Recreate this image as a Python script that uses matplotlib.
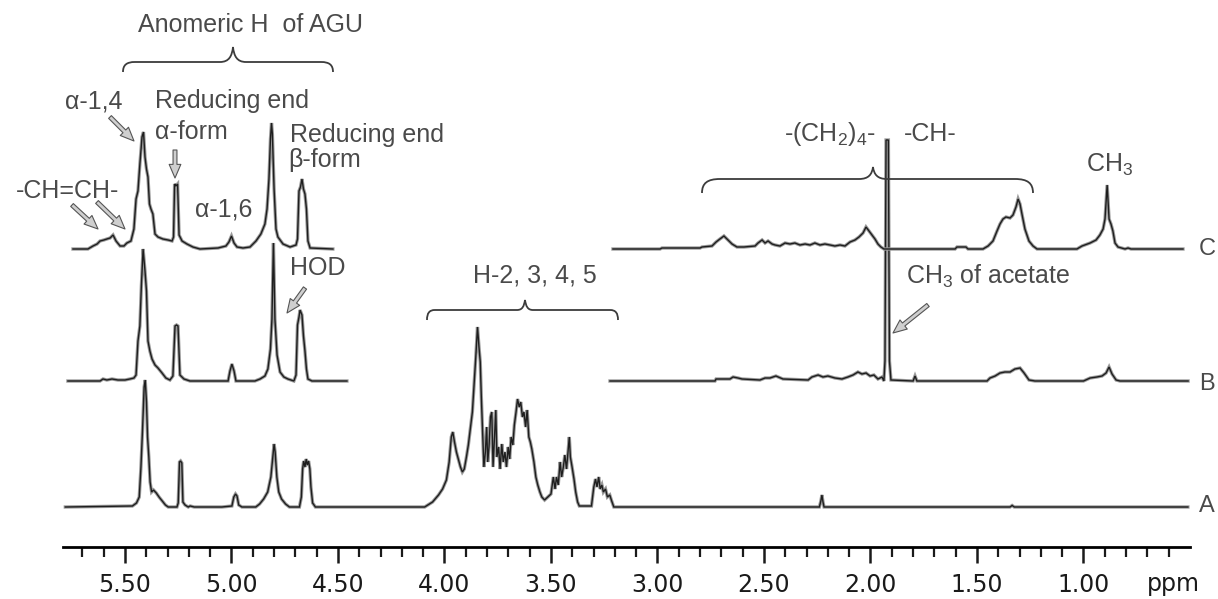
import numpy as np
import matplotlib
matplotlib.use('Agg')
import matplotlib.pyplot as plt
from matplotlib.path import Path
from matplotlib.patches import PathPatch
from matplotlib.ticker import FixedLocator, FormatStrFormatter

plt.rcParams['font.family'] = ['Liberation Sans', 'DejaVu Sans']
plt.rcParams['mathtext.default'] = 'regular'

# --- spectrum A (starch, full range) : ppm / intensity ---
a_ppm = [5.78, 5.465, 5.446, 5.433, 5.425, 5.418, 5.410, 5.405, 5.399, 5.394, 5.388, 5.382,
         5.375, 5.366, 5.353, 5.340, 5.325, 5.310, 5.297, 5.256, 5.250, 5.244, 5.239, 5.233,
         5.228, 5.218, 5.203, 5.194, 5.175, 5.045, 4.998, 4.989, 4.981, 4.974, 4.966, 4.951,
         4.886, 4.868, 4.849, 4.830, 4.815, 4.806, 4.800, 4.795, 4.787, 4.778, 4.765, 4.746,
         4.728, 4.681, 4.672, 4.666, 4.661, 4.655, 4.649, 4.644, 4.638, 4.632, 4.627, 4.619,
         4.606, 4.093, 4.056, 4.028, 4.009, 3.991, 3.978, 3.968, 3.961, 3.953, 3.944, 3.935,
         3.925, 3.916, 3.907, 3.897, 3.888, 3.879, 3.869, 3.860, 3.853, 3.845, 3.838, 3.832,
         3.827, 3.821, 3.815, 3.808, 3.802, 3.797, 3.791, 3.784, 3.778, 3.772, 3.765, 3.759,
         3.754, 3.746, 3.739, 3.731, 3.724, 3.716, 3.709, 3.701, 3.694, 3.687, 3.679, 3.672,
         3.664, 3.657, 3.649, 3.642, 3.634, 3.627, 3.619, 3.612, 3.604, 3.597, 3.590, 3.580,
         3.571, 3.562, 3.552, 3.543, 3.530, 3.515, 3.500, 3.489, 3.481, 3.474, 3.466, 3.457,
         3.450, 3.442, 3.435, 3.427, 3.420, 3.414, 3.409, 3.401, 3.392, 3.384, 3.375, 3.367,
         3.310, 3.299, 3.291, 3.284, 3.276, 3.269, 3.261, 3.254, 3.244, 3.235, 3.224, 3.215,
         3.205, 2.240, 2.233, 2.228, 2.223, 2.218, 1.345, 1.335, 1.325, 0.51]
a_int = [0, 1, 4, 10, 40, 75, 120, 127, 105, 70, 50, 25,
         15, 17, 14, 10, 6, 2, 0, 0, 4, 45, 46, 44,
         5, 2, 0, 1, 0, 0, 1, 10, 13, 11, 2, 0,
         0, 3, 8, 15, 30, 50, 63, 55, 30, 15, 8, 3,
         0, 0, 10, 38, 46, 40, 48, 42, 46, 38, 20, 4,
         0, 0, 5, 12, 18, 27, 45, 70, 75, 65, 55, 48,
         40, 35, 38, 50, 62, 78, 95, 125, 150, 180, 160, 145,
         110, 75, 40, 55, 80, 45, 60, 90, 95, 40, 70, 97,
         50, 60, 38, 63, 45, 55, 40, 60, 48, 70, 62, 82,
         95, 108, 100, 105, 90, 95, 80, 97, 70, 65, 58, 45,
         30, 22, 15, 10, 7, 10, 13, 30, 18, 30, 22, 45,
         30, 40, 52, 38, 55, 70, 50, 40, 28, 15, 5, 1,
         1, 20, 28, 20, 30, 18, 22, 15, 18, 10, 12, 6,
         0, 0, 6, 12, 5, 0, 0, 1.5, 0, 0]

# --- spectrum B ---
b1_ppm = [5.768, 5.617, 5.603, 5.585, 5.561, 5.533, 5.500, 5.477, 5.458, 5.448, 5.439, 5.430,
          5.423, 5.415, 5.406, 5.399, 5.392, 5.383, 5.373, 5.359, 5.345, 5.326, 5.308, 5.289,
          5.275, 5.265, 5.258, 5.251, 5.242, 5.223, 5.195, 5.016, 5.007, 4.998, 4.988, 4.979,
          4.890, 4.866, 4.843, 4.829, 4.817, 4.810, 4.803, 4.796, 4.786, 4.772, 4.754, 4.735,
          4.707, 4.697, 4.690, 4.683, 4.678, 4.669, 4.662, 4.655, 4.648, 4.641, 4.622, 4.458]
b1_int = [0, 0, 2, 1, 2, 1, 1, 2, 3, 6, 40, 55,
          95, 132, 110, 90, 40, 30, 22, 16, 13, 8, 3, 1,
          5, 55, 56, 55, 6, 2, 0, 0, 10, 17, 10, 0,
          0, 2, 5, 12, 32, 62, 138, 62, 26, 9, 4, 2,
          0, 6, 56, 64, 71, 66, 45, 30, 12, 2, 0, 0]
b2_ppm = [3.223, 2.730, 2.725, 2.660, 2.645, 2.622, 2.603, 2.519, 2.495, 2.472, 2.444, 2.411,
          2.293, 2.275, 2.246, 2.223, 2.200, 2.167, 2.134, 2.106, 2.082, 2.059, 2.040, 2.021,
          2.002, 1.984, 1.965, 1.946, 1.937, 1.932, 1.927, 1.916, 1.911, 1.904, 1.800, 1.791,
          1.782, 1.453, 1.439, 1.415, 1.392, 1.369, 1.345, 1.322, 1.298, 1.279, 1.256, 1.228,
          1.000, 0.969, 0.937, 0.913, 0.894, 0.880, 0.866, 0.847, 0.829, 0.509]
b2_int = [0, 0, 2, 2, 4, 3, 2, 1, 3, 3, 5, 2,
          1, 4, 6, 4, 5, 3, 2, 4, 6, 9, 7, 8,
          5, 6, 2, 4, 0, 20, 241, 241, 20, 1, 0, 5,
          0, 0, 3, 5, 8, 9, 9, 12, 13, 8, 1, 0,
          0, 3, 4, 5, 8, 14, 7, 1, 0, 0]

# --- spectrum C ---
c1_ppm = [5.744, 5.674, 5.650, 5.631, 5.617, 5.599, 5.585, 5.570, 5.556, 5.542, 5.523, 5.505,
          5.491, 5.472, 5.458, 5.448, 5.439, 5.430, 5.420, 5.413, 5.406, 5.399, 5.392, 5.385,
          5.378, 5.369, 5.359, 5.345, 5.322, 5.298, 5.279, 5.272, 5.267, 5.261, 5.253, 5.246,
          5.232, 5.209, 5.181, 5.148, 5.063, 5.026, 5.012, 5.000, 4.988, 4.974, 4.946, 4.913,
          4.885, 4.862, 4.843, 4.833, 4.824, 4.817, 4.812, 4.808, 4.800, 4.791, 4.782, 4.758,
          4.725, 4.697, 4.690, 4.683, 4.676, 4.669, 4.662, 4.655, 4.648, 4.641, 4.631, 4.524]
c1_int = [0, 0, 3, 5, 8, 9, 10, 11, 14, 8, 3, 3,
          6, 8, 20, 50, 58, 85, 112, 117, 92, 80, 72, 45,
          40, 35, 15, 12, 10, 9, 8, 12, 65, 63, 65, 14,
          8, 5, 2, 0, 1, 3, 7, 13, 6, 2, 1, 2,
          8, 15, 25, 40, 70, 110, 126, 115, 60, 20, 12, 5,
          2, 4, 10, 58, 62, 70, 60, 55, 40, 8, 1, 0]
c2_ppm = [3.209, 2.988, 2.979, 2.800, 2.791, 2.744, 2.725, 2.707, 2.688, 2.669, 2.650, 2.627,
          2.594, 2.542, 2.528, 2.509, 2.495, 2.481, 2.462, 2.448, 2.425, 2.401, 2.378, 2.355,
          2.331, 2.307, 2.284, 2.261, 2.237, 2.214, 2.190, 2.167, 2.143, 2.120, 2.096, 2.073,
          2.054, 2.035, 2.021, 2.007, 1.993, 1.979, 1.965, 1.951, 1.937, 1.603, 1.594, 1.552,
          1.542, 1.472, 1.448, 1.425, 1.406, 1.392, 1.378, 1.364, 1.345, 1.331, 1.317, 1.307,
          1.298, 1.289, 1.275, 1.256, 1.237, 1.218, 1.031, 1.007, 0.969, 0.941, 0.923, 0.908,
          0.899, 0.889, 0.880, 0.871, 0.862, 0.852, 0.838, 0.805, 0.791, 0.777, 0.533]
c2_int = [0, 0, 1, 1, 2, 3, 7, 10, 13, 9, 5, 2,
          2, 3, 6, 9, 6, 8, 5, 4, 3, 6, 5, 6,
          4, 5, 4, 6, 4, 5, 4, 3, 4, 3, 7, 9,
          12, 16, 22, 18, 14, 10, 5, 2, 0, 0, 2, 2,
          0, 0, 3, 8, 18, 25, 30, 32, 31, 34, 42, 50,
          45, 35, 20, 8, 3, 0, 0, 3, 6, 9, 14, 20,
          30, 64, 30, 25, 18, 6, 2, 0, 1, 0, 0]

spectra = [('A', [(a_ppm, a_int)]),
           ('B', [(b1_ppm, b1_int), (b2_ppm, b2_int)]),
           ('C', [(c1_ppm, c1_int), (c2_ppm, c2_int)])]

major_ticks = [5.5, 5.0, 4.5, 4.0, 3.5, 3.0, 2.5, 2.0, 1.5, 1.0]

# layout (pixels)
W, H = 1218, 599
axis_y = 547
baseline = {'A': 40, 'B': 166, 'C': 298}   # height of each trace above the ppm axis
text_col = '#4a4a4a'

fig = plt.figure(figsize=(W / 100, H / 100), dpi=100)
ax = fig.add_axes([63.2 / W, (H - axis_y) / H, (1190 - 63.2) / W, axis_y / H])
ax.set_xlim(5.79, 0.50)
ax.set_ylim(0, axis_y)
ax.patch.set_visible(False)

for name, segments in spectra:
    for ppm, inten in segments:
        y = baseline[name] + np.array(inten, dtype=float)
        ax.plot(ppm, y, color='#9a9a9a', lw=2.4, solid_joinstyle='miter')
        ax.plot(ppm, y, color='#1e1e1e', lw=1.0, solid_joinstyle='miter')

for s in ['left', 'right', 'top']:
    ax.spines[s].set_visible(False)
ax.spines['bottom'].set_linewidth(2.0)
ax.set_yticks([])
ax.xaxis.set_major_locator(FixedLocator(major_ticks))
minor = [round(v, 1) for v in np.arange(0.6, 5.75, 0.1) if round(v, 1) not in major_ticks]
ax.xaxis.set_minor_locator(FixedLocator(minor))
ax.xaxis.set_major_formatter(FormatStrFormatter('%.2f'))
ax.tick_params(axis='x', which='major', direction='out', length=11.5, width=1.8,
               labelsize=17, pad=7, colors='#1a1a1a', labelfontfamily='DejaVu Sans')
ax.tick_params(axis='x', which='minor', direction='out', length=7, width=1.6, colors='#1a1a1a')

# overlay in pixel coordinates for labels, braces and arrows
ov = fig.add_axes([0, 0, 1, 1])
ov.set_xlim(0, W)
ov.set_ylim(H, 0)
ov.axis('off')
ov.patch.set_visible(False)


def brace(x0, x1, xm, y, h_peak, h_end, r=12, w=13):
    verts = [(x0, y + h_end), (x0, y + h_end * 0.3), (x0 + r * 0.3, y), (x0 + r, y),
             (xm - w, y), (xm - w * 0.3, y), (xm - 1, y - h_peak * 0.4), (xm, y - h_peak),
             (xm + 1, y - h_peak * 0.4), (xm + w * 0.3, y), (xm + w, y),
             (x1 - r, y), (x1 - r * 0.3, y), (x1, y + h_end * 0.3), (x1, y + h_end)]
    codes = [Path.MOVETO] + [Path.CURVE4] * 3 + [Path.LINETO] + [Path.CURVE4] * 6 + \
            [Path.LINETO] + [Path.CURVE4] * 3
    ov.add_patch(PathPatch(Path(verts, codes), fc='none', ec='#3c3c3c', lw=1.3))


def arrow(tail, tip):
    ov.annotate('', xy=tip, xytext=tail,
                arrowprops=dict(arrowstyle='simple,head_width=0.6,head_length=0.7,tail_width=0.2',
                                fc='#cfcfcf', ec='#555555', lw=0.8, mutation_scale=14,
                                shrinkA=0, shrinkB=0))


def label(x, y, s, ha='center', size=18):
    ov.text(x, y, s, ha=ha, va='center', fontsize=size, color=text_col)


brace(123, 333, 233, 62, 15, 10)
brace(427, 618, 525, 310, 10, 10, r=8, w=8)
brace(702, 1033, 873, 179, 12, 14, r=18, w=14)

label(251, 25, 'Anomeric H  of AGU')
label(94, 102, 'α-1,4')
label(155, 101, 'Reducing end', ha='left')
label(155, 132, 'α-form', ha='left')
label(224, 209, 'α-1,6')
label(290, 135, 'Reducing end', ha='left')
label(288, 160, 'β-form', ha='left')
label(68, 191, '-CH=CH-')
label(318, 268, 'HOD')
label(535, 275, 'H-2, 3, 4, 5')
label(830, 134, '-(CH$_2$)$_4$-')
label(930, 134, '-CH-')
label(1110, 165, 'CH$_3$')
label(988, 276, 'CH$_3$ of acetate')

arrow((110, 117), (134, 141))
arrow((175, 150), (175, 178))
arrow((72, 205), (98, 229))
arrow((97, 202), (125, 229))
arrow((305, 288), (287, 313))
arrow((928, 305), (893, 333))

for name, y in [('C', 249), ('B', 384), ('A', 506)]:
    label(1207, y, name, size=17)

ov.text(1173, 584, 'ppm', ha='center', va='center', fontsize=17, color='#1a1a1a',
        family='DejaVu Sans')

fig.savefig('out.png', dpi=100)
